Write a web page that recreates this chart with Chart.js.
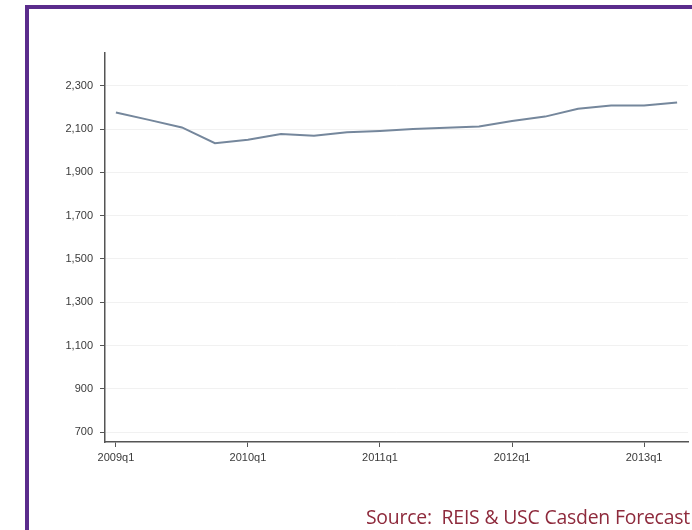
<!DOCTYPE html>
<html>
<head>
<meta charset="utf-8">
<script src="https://cdn.jsdelivr.net/npm/chart.js@4.4.0/dist/chart.umd.min.js"></script>
<style>
  html, body { margin: 0; padding: 0; background: #ffffff; }
  #wrap { position: relative; width: 692px; height: 530px; overflow: hidden; background: #fff; }
  #frame { position: absolute; left: 25px; top: 5px; width: 700px; height: 560px;
           border-left: 4px solid #5b2c8c; border-top: 4px solid #5b2c8c; box-sizing: border-box; }
  #cv { position: absolute; left: 0; top: 0; }
  #source { position: absolute; right: 2px; top: 503px; font-family: "Open Sans", "Noto Sans", sans-serif;
            font-size: 19.4px; color: #8e2a3c; white-space: pre; letter-spacing: -0.2px; }
</style>
</head>
<body>
<div id="wrap">
  <div id="frame"></div>
  <canvas id="cv" width="692" height="530"></canvas>
  <div id="source">Source:  REIS &amp; USC Casden Forecast</div>
</div>
<script>
const quarters = ["2009q1","2009q2","2009q3","2009q4","2010q1","2010q2","2010q3","2010q4",
                  "2011q1","2011q2","2011q3","2011q4","2012q1","2012q2","2012q3","2012q4",
                  "2013q1","2013q2"];
const rentValues = [2177, 2143, 2108, 2035, 2051, 2078, 2069, 2086,
                    2092, 2101, 2107, 2112, 2138, 2158, 2194, 2209,
                    2209, 2223];
const yTickValues = [700, 900, 1100, 1300, 1500, 1700, 1900, 2100, 2300];
const xTickIndices = [0, 4, 8, 12, 16];

const points = rentValues.map((v, i) => ({ x: i, y: v }));

new Chart(document.getElementById('cv'), {
  type: 'line',
  data: {
    datasets: [{
      data: points,
      borderColor: '#75879c',
      borderWidth: 2,
      pointRadius: 0,
      tension: 0,
      fill: false
    }]
  },
  options: {
    responsive: false,
    animation: false,
    devicePixelRatio: 1,
    layout: { padding: { left: 0, right: 4, top: 53, bottom: 0 } },
    plugins: { legend: { display: false }, tooltip: { enabled: false } },
    scales: {
      x: {
        type: 'linear',
        min: -0.33,
        max: 17.33,
        afterBuildTicks: s => { s.ticks = xTickIndices.map(v => ({ value: v })); },
        afterFit: s => { s.height = 88; },
        ticks: {
          callback: v => quarters[v] || '',
          font: { family: 'Arial, "Liberation Sans", sans-serif', size: 11 },
          color: '#3a3a3a',
          padding: 4,
          maxRotation: 0,
          autoSkip: false
        },
        grid: { drawOnChartArea: false, drawTicks: true, tickLength: 5, tickColor: '#555', tickWidth: 1 },
        border: { color: '#555', width: 1.5 }
      },
      y: {
        min: 654,
        max: 2452,
        afterBuildTicks: s => { s.ticks = yTickValues.map(v => ({ value: v })); },
        afterFit: s => { s.width = 105; },
        ticks: {
          callback: v => v.toLocaleString('en-US'),
          font: { family: 'Arial, "Liberation Sans", sans-serif', size: 11 },
          color: '#3a3a3a',
          padding: 7
        },
        grid: { color: '#f1f1f1', lineWidth: 1, drawTicks: true, tickLength: 5, tickColor: '#555', tickWidth: 1 },
        border: { color: '#555', width: 1.5 }
      }
    }
  }
});
</script>
</body>
</html>
